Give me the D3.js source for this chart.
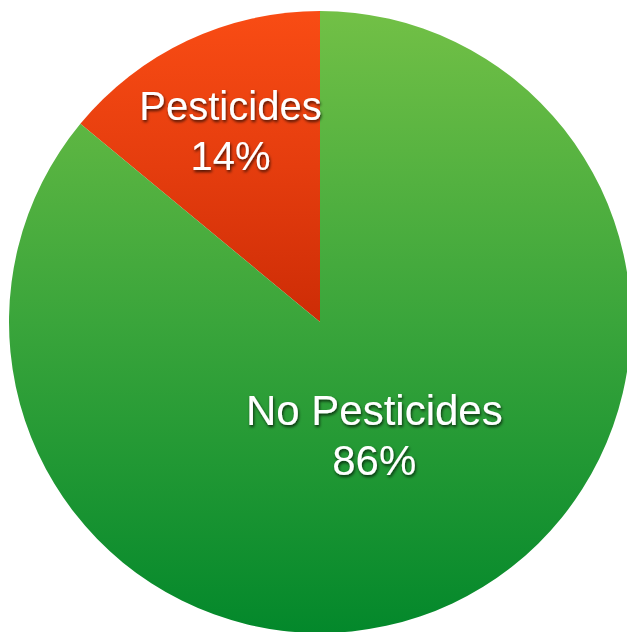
<!DOCTYPE html>
<html>
<head>
<meta charset="utf-8">
<script src="https://cdn.jsdelivr.net/npm/d3@7"></script>
<style>
  html, body { margin: 0; padding: 0; background: #fff; }
  svg { display: block; }
</style>
</head>
<body>
<div id="chart"></div>
<script>
// data
const categories = ["Pesticides", "No Pesticides"];
const values = [14, 86];
const percentLabels = ["14%", "86%"];

const width = 627, height = 632;
const cx = 320, cy = 322, radius = 311;

// colours for each slice (top, middle, bottom of the gradient)
const topColors = ["#f94c14", "#72c046"];
const midColors = ["#e53d0e", "#3aa53b"];
const bottomColors = ["#cd2c06", "#03882b"];
// how far out along the slice the label sits (fraction of radius)
const labelRadius = [0.676, 0.41];
const labelSize = [40, 42];

const svg = d3.select("#chart")
    .append("svg")
    .attr("width", width)
    .attr("height", height);

const defs = svg.append("defs");

const startA = -2 * Math.PI * values[0] / 100;
const pieData = d3.pie()
    .sort(null)
    .startAngle(startA)
    .endAngle(startA + 2 * Math.PI)(values);

const arc = d3.arc().innerRadius(0).outerRadius(radius);

// vertical extent of a slice (y down), used for its gradient
function sliceExtent(d) {
    const ys = [0, -Math.cos(d.startAngle) * radius, -Math.cos(d.endAngle) * radius];
    for (let k = -2; k <= 2; k++) {
        const a = k * Math.PI;
        if (a > d.startAngle && a < d.endAngle) ys.push(-Math.cos(a) * radius);
    }
    return d3.extent(ys);
}

pieData.forEach((d, i) => {
    const [y0, y1] = sliceExtent(d);
    const g = defs.append("linearGradient")
        .attr("id", "grad" + i)
        .attr("gradientUnits", "userSpaceOnUse")
        .attr("x1", 0).attr("x2", 0)
        .attr("y1", y0).attr("y2", y1);
    g.append("stop").attr("offset", "0%").attr("stop-color", topColors[i]);
    g.append("stop").attr("offset", "50%").attr("stop-color", midColors[i]);
    g.append("stop").attr("offset", "100%").attr("stop-color", bottomColors[i]);
});

const shadow = defs.append("filter")
    .attr("id", "shadow")
    .attr("x", "-20%").attr("y", "-40%")
    .attr("width", "140%").attr("height", "180%");
shadow.append("feDropShadow")
    .attr("dx", 1).attr("dy", 2)
    .attr("stdDeviation", 1.4)
    .attr("flood-color", "#000")
    .attr("flood-opacity", 0.7);

const pie = svg.append("g")
    .attr("transform", `translate(${cx},${cy})`);

pie.selectAll("path")
    .data(pieData)
    .enter()
    .append("path")
    .attr("d", arc)
    .attr("fill", (d, i) => `url(#grad${i})`);

// labels
const labels = pie.selectAll(".label")
    .data(pieData)
    .enter()
    .append("text")
    .attr("class", "label")
    .attr("transform", (d, i) => {
        const a = (d.startAngle + d.endAngle) / 2;
        const r = radius * labelRadius[i];
        return `translate(${Math.sin(a) * r},${-Math.cos(a) * r})`;
    })
    .attr("text-anchor", "middle")
    .attr("font-family", "'Liberation Sans', Arial, Helvetica, sans-serif")
    .attr("font-size", (d, i) => labelSize[i] + "px")
    .attr("fill", "#fff")
    .attr("filter", "url(#shadow)");

labels.append("tspan")
    .attr("x", 0)
    .attr("y", -12)
    .text((d, i) => categories[i]);

labels.append("tspan")
    .attr("x", 0)
    .attr("y", 38)
    .text((d, i) => percentLabels[i]);
</script>
</body>
</html>
